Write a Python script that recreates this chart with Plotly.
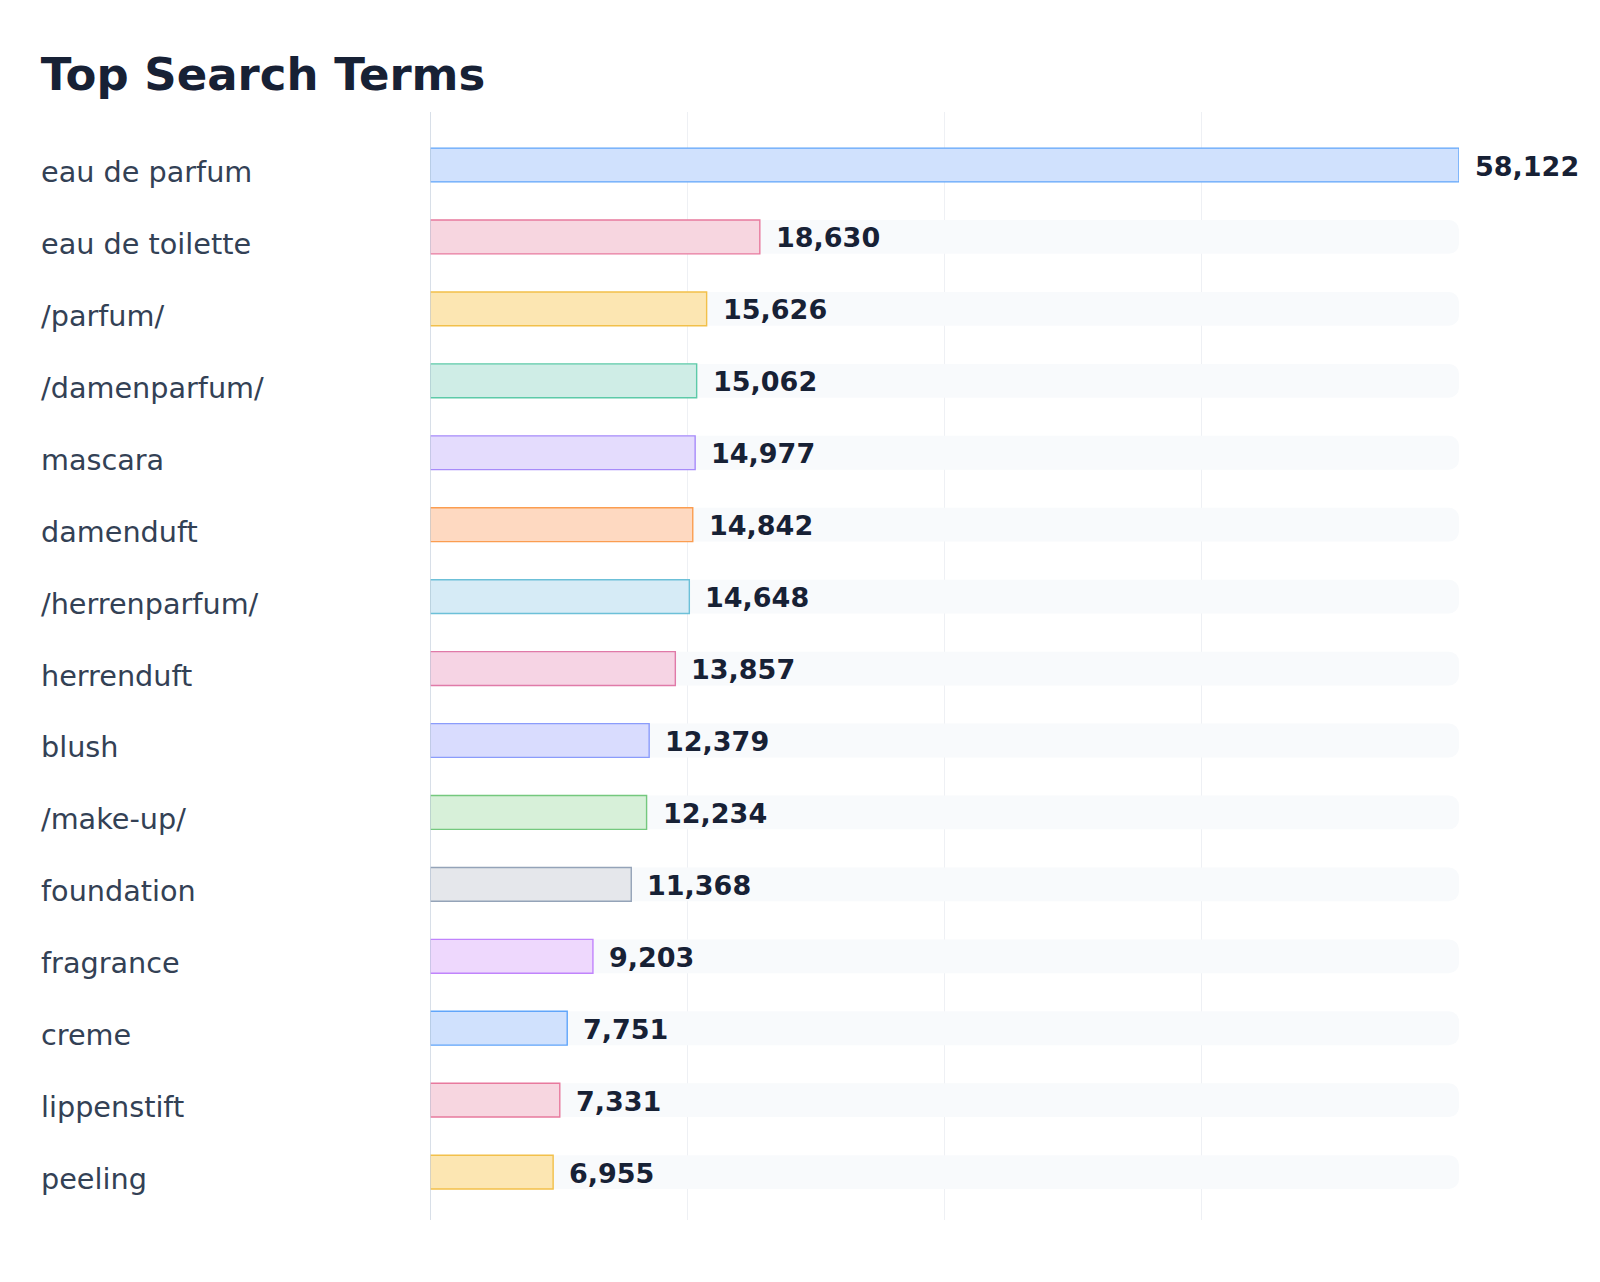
import plotly.graph_objects as go

terms = [
    "eau de parfum", "eau de toilette", "/parfum/", "/damenparfum/", "mascara",
    "damenduft", "/herrenparfum/", "herrenduft", "blush", "/make-up/",
    "foundation", "fragrance", "creme", "lippenstift", "peeling",
]
searches = [58122, 18630, 15626, 15062, 14977, 14842, 14648, 13857, 12379, 12234,
            11368, 9203, 7751, 7331, 6955]

fills = ["#d0e1fd", "#f7d6e0", "#fce6b2", "#cfede6", "#e4dcfd", "#fed9c1",
         "#d6ebf6", "#f6d4e4", "#d9dcfe", "#d7f0d9", "#e5e7eb", "#eed8fd"]
lines = ["#60a5fa", "#e8799d", "#f2c04a", "#5ccaa8", "#a78bfa", "#fb9d50",
         "#6cc0d8", "#e07aa8", "#8b9cfb", "#74c87e", "#94a3b8", "#c084fc"]

top = max(searches)
bar_fill = [fills[i % len(fills)] for i in range(len(terms))]
bar_line = [lines[i % len(lines)] for i in range(len(terms))]

fig = go.Figure()
# grey track behind every bar
fig.add_trace(go.Bar(
    y=terms, x=[top] * len(terms), orientation="h", width=0.47,
    marker=dict(color="#f8fafc", cornerradius=10, line_width=0),
    hoverinfo="skip", showlegend=False,
))
# rounded fill
fig.add_trace(go.Bar(
    y=terms, x=searches, orientation="h", width=0.47,
    marker=dict(color=bar_fill, cornerradius=4, line_width=0),
    showlegend=False,
))
# square outline on top
fig.add_trace(go.Bar(
    y=terms, x=searches, orientation="h", width=0.47,
    marker=dict(color="rgba(0,0,0,0)", line=dict(color=bar_line, width=1.4)),
    hoverinfo="skip", showlegend=False,
))

for t, v in zip(terms, searches):
    fig.add_annotation(
        x=v, y=t, xref="x", yref="y", text=f"{v:,}", showarrow=False,
        xanchor="left", xshift=14, yshift=-1,
        font=dict(family="DejaVu Sans", size=27, color="#172135", weight="bold"),
    )
    fig.add_annotation(
        x=-0.380, y=t, xref="paper", yref="y", text=t, showarrow=False,
        xanchor="left", yshift=-7,
        font=dict(family="DejaVu Sans", size=28.7, color="#334155"),
    )

fig.update_layout(
    width=1600, height=1282,
    barmode="overlay",
    paper_bgcolor="white", plot_bgcolor="white",
    margin=dict(l=422, r=149, t=104, b=70),
    title=dict(
        text="<b>Top Search Terms</b>", x=0.0205, xanchor="left", y=0.948, yanchor="middle",
        font=dict(family="DejaVu Sans", size=45, color="#172135"),
    ),
    font=dict(family="DejaVu Sans"),
)
fig.update_xaxes(
    range=[0, top], tickvals=[top * k / 4 for k in range(5)], showticklabels=False,
    showgrid=True, gridcolor="#eef0f4", gridwidth=1, zeroline=False,
    showline=False, fixedrange=True,
)
fig.update_yaxes(
    range=[len(terms) - 1 + 0.666, -0.737], showticklabels=False, showgrid=False,
    zeroline=False, showline=False, fixedrange=True,
)
fig.add_shape(type="line", xref="x", yref="paper", x0=0, x1=0, y0=0, y1=1,
              line=dict(color="#cbd5e1", width=1.5), layer="above")

fig.write_html("out.html")
